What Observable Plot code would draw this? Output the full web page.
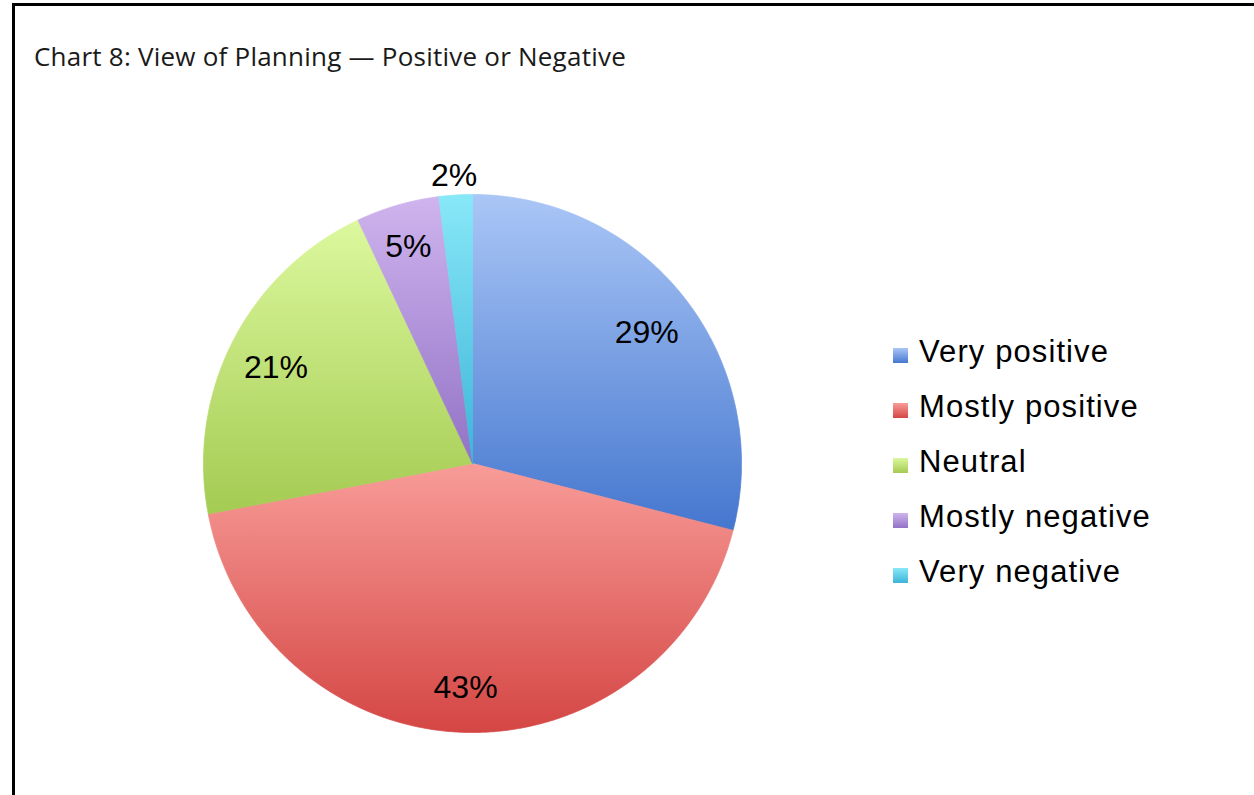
<!DOCTYPE html>
<html>
<head>
<meta charset="utf-8">
<script src="https://cdn.jsdelivr.net/npm/d3@7"></script>
<script src="https://cdn.jsdelivr.net/npm/@observablehq/plot@0.6"></script>
<style>
  html, body { margin: 0; padding: 0; background: #fff; }
  #page { position: relative; width: 1254px; height: 795px; overflow: hidden; background: #fff; }
  #frameTop { position: absolute; left: 12px; top: 3px; width: 1242px; height: 3px; background: #000; }
  #frameLeft { position: absolute; left: 12px; top: 3px; width: 3px; height: 792px; background: #000; }
  #title { position: absolute; left: 34px; top: 42px; font-family: "Open Sans", Lato, sans-serif; font-weight: 400; font-size: 26px; line-height: 28px; white-space: nowrap; color: #1a1a1a; }
  #chart { position: absolute; left: 0; top: 100px; }
  .lg-item { position: absolute; left: 893px; height: 31px; white-space: nowrap; }
  .lg-swatch { position: absolute; left: 0; top: 12px; width: 15px; height: 15px; }
  .lg-text { position: absolute; left: 26px; top: 0; font-family: "Liberation Sans", Arial, sans-serif; font-size: 31px; line-height: 31px; letter-spacing: 1.1px; color: #000; }
</style>
</head>
<body>
<div id="page">
  <div id="frameTop"></div>
  <div id="frameLeft"></div>
  <div id="title">Chart 8: View of Planning — Positive or Negative</div>
  <div id="chart"></div>
</div>
<script>
// ---- data ----
const categories = ["Very positive", "Mostly positive", "Neutral", "Mostly negative", "Very negative"];
const values = [29, 43, 21, 5, 2];
const labels = ["29%", "43%", "21%", "5%", "2%"];
const colorsTop = ["#aac6f6", "#f89c98", "#dcf89e", "#cfb4ee", "#88e8f8"];
const colorsBottom = ["#4577cf", "#d44644", "#a4cb52", "#9272c6", "#3db4d8"];

// ---- geometry from data ----
const R = 269, cx = 472, cy = 363;
const arcs = d3.pie().sort(null).value(d => d)(values);
const arcPoints = (a0, a1) => {
  const pts = [];
  const n = Math.max(2, Math.ceil((a1 - a0) / 0.004));
  for (let k = 0; k <= n; k++) {
    const t = a0 + (a1 - a0) * k / n;
    pts.push({x: Math.sin(t), y: Math.cos(t)});
  }
  return pts;
};
const slices = arcs.map(a => [{x: 0, y: 0}, ...arcPoints(a.startAngle, a.endAngle), {x: 0, y: 0}]);
const outline = arcPoints(0, 2 * Math.PI);
const labelPts = arcs.map((a, i) => {
  const m = (a.startAngle + a.endAngle) / 2;
  const share = values[i] / d3.sum(values);
  const r = share < 0.03 ? 1.085 : share < 0.1 ? 0.855 : 0.82;
  return {x: r * Math.sin(m), y: r * Math.cos(m), label: labels[i]};
});

const plot = Plot.plot({
  width: 1254,
  height: 695,
  margin: 0,
  x: {domain: [-1, 1], range: [cx - R, cx + R], axis: null},
  y: {domain: [-1, 1], range: [cy + R, cy - R], axis: null},
  marks: [
    Plot.line(outline, {x: "x", y: "y", fill: "#fff", stroke: "none", ariaLabel: "pie-shadow"}),
    ...slices.map((pts, i) => Plot.line(pts, {
      x: "x", y: "y",
      fill: `url(#slice-grad-${i})`,
      stroke: `url(#slice-grad-${i})`,
      strokeWidth: 0.8
    })),
    Plot.text(labelPts, {
      x: "x", y: "y", text: "label",
      dy: 4,
      fontSize: 32,
      fontFamily: "Liberation Sans, Arial, sans-serif",
      fill: "#000"
    })
  ]
});

// gradient + shadow defs
const NS = "http://www.w3.org/2000/svg";
const defs = document.createElementNS(NS, "defs");
categories.forEach((c, i) => {
  const g = document.createElementNS(NS, "linearGradient");
  g.setAttribute("id", `slice-grad-${i}`);
  g.setAttribute("x1", "0"); g.setAttribute("y1", "0");
  g.setAttribute("x2", "0"); g.setAttribute("y2", "1");
  [[0, colorsTop[i]], [1, colorsBottom[i]]].forEach(([o, col]) => {
    const s = document.createElementNS(NS, "stop");
    s.setAttribute("offset", o);
    s.setAttribute("stop-color", col);
    g.appendChild(s);
  });
  defs.appendChild(g);
});
const filt = document.createElementNS(NS, "filter");
filt.setAttribute("id", "pie-shadow-filter");
filt.setAttribute("x", "-20%"); filt.setAttribute("y", "-20%");
filt.setAttribute("width", "140%"); filt.setAttribute("height", "140%");
const ds = document.createElementNS(NS, "feDropShadow");
ds.setAttribute("dx", "3"); ds.setAttribute("dy", "4");
ds.setAttribute("stdDeviation", "6");
ds.setAttribute("flood-color", "#000");
ds.setAttribute("flood-opacity", "0.12");
filt.appendChild(ds);
defs.appendChild(filt);
plot.insertBefore(defs, plot.firstChild);
const shadowG = plot.querySelector('g[aria-label="pie-shadow"]');
if (shadowG) shadowG.setAttribute("filter", "url(#pie-shadow-filter)");
document.getElementById("chart").appendChild(plot);

// legend
const page = document.getElementById("page");
categories.forEach((c, i) => {
  const item = document.createElement("div");
  item.className = "lg-item";
  item.style.top = (335.5 + i * 55) + "px";
  const sw = document.createElement("div");
  sw.className = "lg-swatch";
  sw.style.background = `linear-gradient(${colorsTop[i]}, ${colorsBottom[i]})`;
  const tx = document.createElement("div");
  tx.className = "lg-text";
  tx.textContent = c;
  item.appendChild(sw);
  item.appendChild(tx);
  page.appendChild(item);
});

// fit title width to the reference
const title = document.getElementById("title");
const w = title.getBoundingClientRect().width;
const n = title.textContent.length;
title.style.letterSpacing = ((592 - w) / n) + "px";
</script>
</body>
</html>
